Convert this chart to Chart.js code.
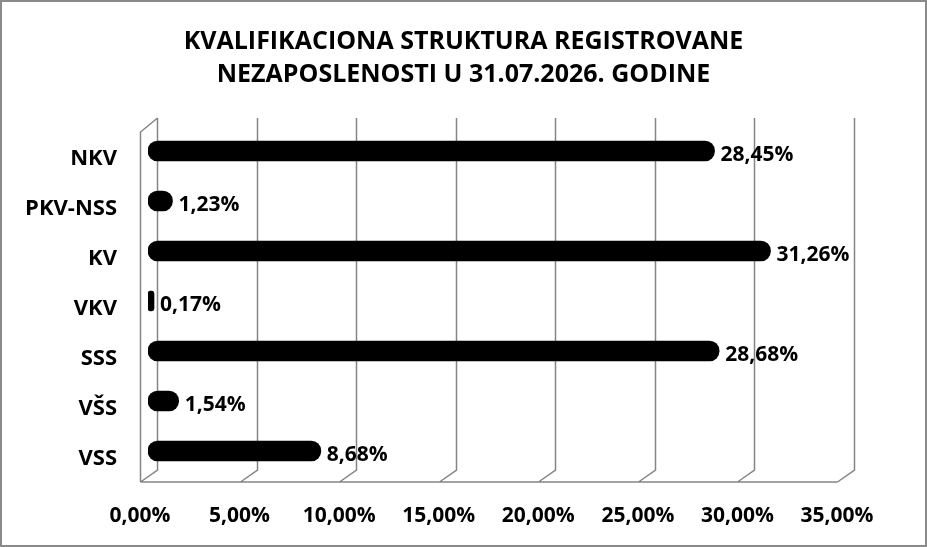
<!DOCTYPE html>
<html>
<head>
<meta charset="utf-8">
<script src="https://cdn.jsdelivr.net/npm/chart.js@4"></script>
<style>
    body { margin: 0; background: #fff; }
    canvas { display: block; }
</style>
</head>
<body>
<canvas id="chart" width="927" height="547"></canvas>
<script>
const categories = ["NKV", "PKV-NSS", "KV", "VKV", "SSS", "VŠS", "VSS"];
const shares = [28.45, 1.23, 31.26, 0.17, 28.68, 1.54, 8.68];
const tickValues = [0, 5, 10, 15, 20, 25, 30, 35];
const titleLines = ["KVALIFIKACIONA STRUKTURA REGISTROVANE", "NEZAPOSLENOSTI U 31.07.2026. GODINE"];

const FONT = "'Open Sans', Carlito, Calibri, sans-serif";
const GRID = "#858585";

function pct(v) {
    return v.toFixed(2).replace(".", ",") + "%";
}

// white background, title centred on the whole picture, outer frame
const framePlugin = {
    id: "frame",
    beforeDraw(chart) {
        const ctx = chart.ctx;
        ctx.save();
        ctx.fillStyle = "#fff";
        ctx.fillRect(0, 0, chart.width, chart.height);
        ctx.restore();
    },
    afterDraw(chart) {
        const ctx = chart.ctx;
        ctx.save();
        ctx.fillStyle = "#000";
        ctx.font = "bold 25px " + FONT;
        ctx.textAlign = "center";
        ctx.textBaseline = "middle";
        ctx.fillText(titleLines[0], chart.width / 2, 42);
        ctx.fillText(titleLines[1], chart.width / 2, 75);

        ctx.strokeStyle = "#8a8a8a";
        ctx.lineWidth = 2;
        ctx.strokeRect(1, 1, chart.width - 2, chart.height - 2);
        ctx.restore();
    }
};

// 3D style walls: back grid lines, floor and left wall
const wallsPlugin = {
    id: "walls",
    beforeDatasetsDraw(chart) {
        const ctx = chart.ctx;
        const x = chart.scales.x;
        const area = chart.chartArea;
        const dx = 17, dy = 12;
        const backTop = area.top - 8;
        const backBottom = area.bottom - 6;
        const frontBottom = backBottom + dy;

        ctx.save();
        ctx.strokeStyle = GRID;
        ctx.lineWidth = 1.5;
        ctx.beginPath();
        tickValues.forEach(v => {
            const bx = Math.round(x.getPixelForValue(v) + 9) + 0.5;
            ctx.moveTo(bx, backTop);
            ctx.lineTo(bx, backBottom);
            ctx.lineTo(bx - dx, frontBottom);
        });
        // front floor edge
        const left0 = Math.round(x.getPixelForValue(0) + 9 - dx) + 0.5;
        const right0 = Math.round(x.getPixelForValue(35) + 9 - dx) + 0.5;
        ctx.moveTo(left0, frontBottom);
        ctx.lineTo(right0, frontBottom);
        // left wall front edge and top
        ctx.moveTo(left0, frontBottom);
        ctx.lineTo(left0, backTop + 14);
        ctx.lineTo(left0 + dx, backTop);
        ctx.stroke();
        ctx.restore();
    }
};

// value labels at the end of each bar
const valueLabels = {
    id: "valueLabels",
    afterDatasetsDraw(chart) {
        const ctx = chart.ctx;
        const meta = chart.getDatasetMeta(0);
        ctx.save();
        ctx.fillStyle = "#000";
        ctx.font = "bold 21px " + FONT;
        ctx.textAlign = "left";
        ctx.textBaseline = "middle";
        meta.data.forEach((bar, i) => {
            ctx.fillText(pct(shares[i]), bar.x + 6, bar.y + 4);
        });
        ctx.restore();
    }
};

new Chart(document.getElementById("chart"), {
    type: "bar",
    data: {
        labels: categories,
        datasets: [{
            data: shares,
            backgroundColor: "#000",
            borderColor: "#000",
            borderWidth: 0,
            borderRadius: 10,
            borderSkipped: false,
            barThickness: 20,
            minBarLength: 6
        }]
    },
    options: {
        indexAxis: "y",
        responsive: false,
        animation: false,
        devicePixelRatio: 1,
        layout: {
            padding: { top: 126, right: 82, bottom: 0, left: 0 }
        },
        plugins: {
            legend: { display: false },
            tooltip: { enabled: false },
            title: { display: false }
        },
        scales: {
            x: {
                min: 0,
                max: 35,
                afterBuildTicks(scale) {
                    scale.ticks = tickValues.map(v => ({ value: v }));
                },
                afterFit(scale) {
                    scale.height = 71;
                },
                grid: { display: false, drawTicks: false },
                border: { display: false },
                ticks: {
                    color: "#000",
                    font: { family: FONT, size: 21, weight: "bold" },
                    padding: 27,
                    labelOffset: -8,
                    maxRotation: 0,
                    callback: v => pct(v)
                }
            },
            y: {
                afterFit(scale) {
                    scale.width = 148;
                },
                grid: { display: false, drawTicks: false },
                border: { display: false },
                ticks: {
                    color: "#000",
                    font: { family: FONT, size: 22, weight: "bold" },
                    padding: 31,
                    labelOffset: 8
                }
            }
        }
    },
    plugins: [framePlugin, wallsPlugin, valueLabels]
});
</script>
</body>
</html>
